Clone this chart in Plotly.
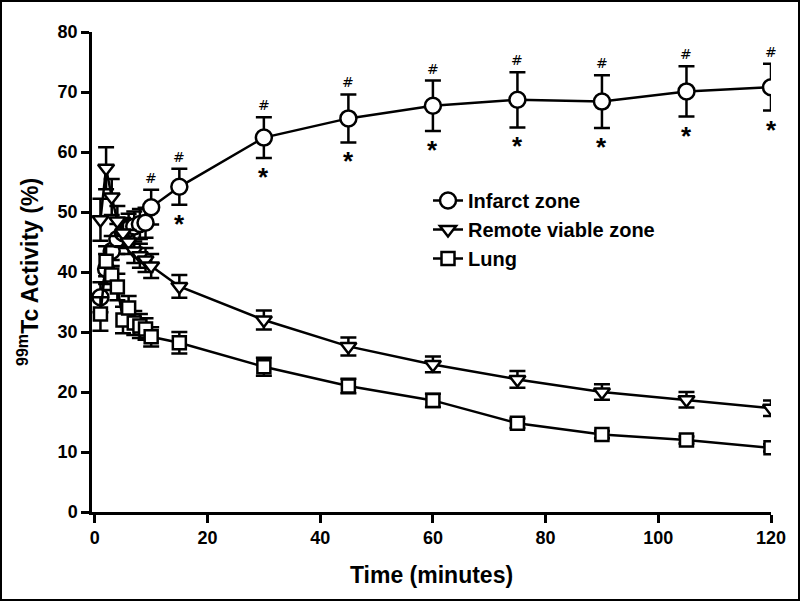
import plotly.graph_objects as go

time = [1, 2, 3, 4, 5, 6, 7, 8, 9, 10, 15, 30, 45, 60, 75, 90, 105, 120]

infarct = [35.8, 40.5, 43.5, 45.5, 46.5, 47.2, 47.6, 48.0, 48.2, 50.8, 54.2, 62.4, 65.6, 67.7, 68.7, 68.4, 70.1, 70.8]
infarct_err = [2.5, 2.5, 2.5, 2.5, 2.5, 2.5, 2.5, 2.5, 2.5, 2.9, 3.0, 3.4, 4.0, 4.2, 4.6, 4.4, 4.2, 3.9]

remote = [48.7, 57.3, 52.5, 48.5, 46.5, 45.0, 43.5, 42.7, 42.0, 41.0, 37.6, 32.0, 27.6, 24.6, 22.1, 20.0, 18.7, 17.3]
remote_err = [3.5, 3.5, 3.0, 2.5, 2.2, 2.0, 2.0, 2.0, 2.0, 2.0, 1.9, 1.6, 1.5, 1.3, 1.4, 1.3, 1.3, 1.3]

lung = [33.0, 41.8, 39.5, 37.5, 32.0, 34.0, 31.5, 31.0, 30.5, 29.2, 28.2, 24.2, 21.0, 18.6, 14.8, 12.9, 12.0, 10.7]
lung_err = [2.8, 2.5, 2.5, 2.2, 2.2, 2.0, 2.0, 2.0, 1.8, 1.6, 1.8, 1.5, 1.2, 1.1, 0.8, 0.6, 0.6, 0.6]

hash_times = [10, 15, 30, 45, 60, 75, 90, 105, 120]
star_times = [15, 30, 45, 60, 75, 90, 105, 120]

x_ticks = [0, 20, 40, 60, 80, 100, 120]
y_ticks = [0, 10, 20, 30, 40, 50, 60, 70, 80]

FONT = "Liberation Sans"

fig = go.Figure()

def add_series(name, y, err, symbol, size):
    fig.add_trace(go.Scatter(
        x=time, y=y, name=name, mode="lines+markers",
        line=dict(color="black", width=2.5),
        marker=dict(symbol=symbol, size=size, color="white",
                    line=dict(color="black", width=2.5)),
        error_y=dict(type="data", array=err, visible=True,
                     color="black", thickness=2.5, width=8),
    ))

add_series("Infarct zone", infarct, infarct_err, "circle", 16)
add_series("Remote viable zone", remote, remote_err, "triangle-down", 14)
add_series("Lung", lung, lung_err, "square", 13)

annotations = []
for t in hash_times:
    i = time.index(t)
    annotations.append(dict(x=t, y=infarct[i] + infarct_err[i], xref="x", yref="y",
                            text="#", showarrow=False, yshift=12,
                            font=dict(family="DejaVu Sans", size=14, color="black")))
for t in star_times:
    i = time.index(t)
    annotations.append(dict(x=t, y=infarct[i] - infarct_err[i], xref="x", yref="y",
                            text="<b>*</b>", showarrow=False, yshift=-19,
                            font=dict(family=FONT, size=26, color="black")))

W, H = 800, 601
ml, mr, mt, mb = 92, 29, 32, 89
pw, ph = W - ml - mr, H - mt - mb

fig.update_layout(
    width=W, height=H,
    margin=dict(l=ml, r=mr, t=mt, b=mb, pad=0),
    paper_bgcolor="white", plot_bgcolor="white",
    font=dict(family=FONT, color="black"),
    showlegend=True,
    legend=dict(x=(428 - ml) / pw, y=(512 - 181) / ph, xanchor="left", yanchor="top",
                bgcolor="rgba(0,0,0,0)",
                font=dict(family=FONT, size=20, color="black", weight="bold"),
                tracegroupgap=0),
    annotations=annotations,
    xaxis=dict(range=[-0.5, 120], tickvals=x_ticks, ticks="outside", ticklen=8,
               tickwidth=2.5, tickcolor="black", showline=True, linecolor="black",
               linewidth=2.5, showgrid=False, zeroline=False,
               tickfont=dict(family=FONT, size=18, color="black", weight="bold"),
               title=dict(text="<b>Time (minutes)</b>", standoff=20,
                          font=dict(family=FONT, size=23, color="black"))),
    yaxis=dict(range=[0, 80], tickvals=y_ticks, ticks="outside", ticklen=8,
               tickwidth=2.5, tickcolor="black", showline=True, linecolor="black",
               linewidth=2.5, showgrid=False, zeroline=False,
               tickfont=dict(family=FONT, size=18, color="black", weight="bold"),
               title=dict(text="<b><sup>99m</sup>Tc Activity (%)</b>", standoff=13,
                          font=dict(family=FONT, size=23, color="black"))),
    shapes=[dict(type="rect", xref="paper", yref="paper",
                 x0=-(ml - 1) / pw, x1=1 + (mr - 1) / pw,
                 y0=-(mb - 1) / ph, y1=1 + (mt - 1) / ph,
                 line=dict(color="black", width=2), fillcolor="rgba(0,0,0,0)")],
)

fig.write_html("out.html", config={"displayModeBar": False},
               post_script="document.body.style.margin='0';")
